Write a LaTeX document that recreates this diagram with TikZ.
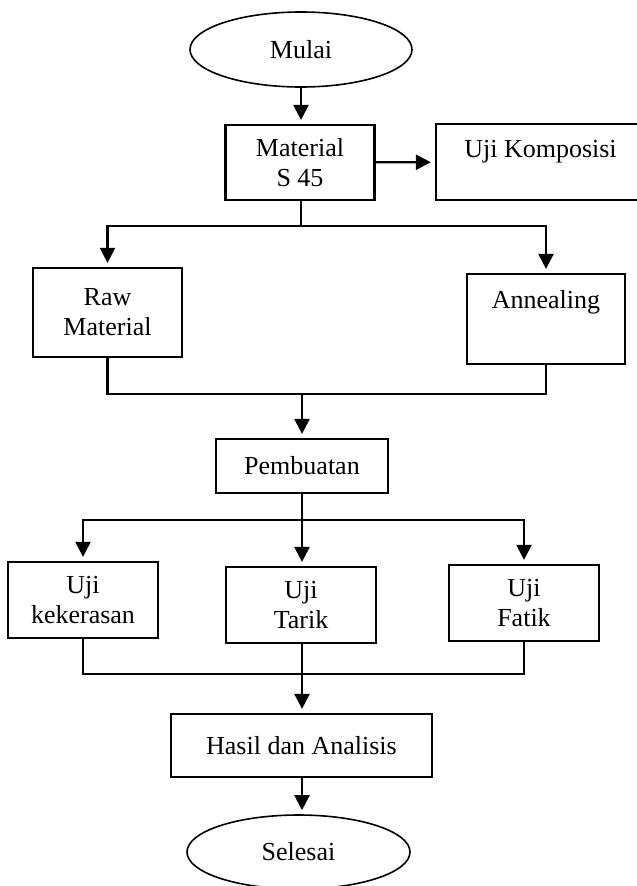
\documentclass[tikz,border=0pt]{standalone}
\usepackage{fontspec}
\setmainfont{Liberation Serif}
\usetikzlibrary{shapes.geometric,arrows.meta}

\begin{document}
\begin{tikzpicture}[x=1pt,y=-1pt,>={Triangle[length=15pt,width=15pt]},line width=2.2pt,font=\fontsize{26}{30}\selectfont]
\tikzstyle{blk}=[rectangle,draw,align=center,inner sep=0pt]
\tikzstyle{term}=[ellipse,draw,line width=1.6pt,inner sep=0pt,minimum width=222pt,minimum height=75pt]
\tikzstyle{flow}=[->,shorten >=4pt]
\useasboundingbox (0,0) rectangle (637,886);
\node[term] (mulai) at (301,49.5) {Mulai};
\node[blk, minimum width=149pt, minimum height=75pt] (material) at (300,162.5) {Material\\S 45};
\node[blk, minimum width=209pt, minimum height=76pt, text depth=26pt] (komposisi) at (540.5,162) {Uji Komposisi};
\node[blk, minimum width=149pt, minimum height=89pt] (raw) at (107.5,312.5) {Raw\\Material};
\node[blk, minimum width=158pt, minimum height=90pt, text depth=40pt] (anneal) at (546,319) {Annealing};
\node[blk, minimum width=172pt, minimum height=54pt] (pembuatan) at (302,466) {Pembuatan};
\node[blk, minimum width=150pt, minimum height=76pt] (keras) at (83,600) {Uji\\kekerasan};
\node[blk, minimum width=150pt, minimum height=76pt] (tarik) at (301,605) {Uji\\Tarik};
\node[blk, minimum width=150pt, minimum height=76pt] (fatik) at (524,603) {Uji\\Fatik};
\node[blk, minimum width=261pt, minimum height=63pt] (hasil) at (301.5,745.5) {Hasil dan Analisis};
\node[term, minimum width=223pt, minimum height=74pt] (selesai) at (298.5,852) {Selesai};
% junctions
\coordinate (split1) at (301,226);
\coordinate (merge1) at (302,394);
\coordinate (split2) at (302,520);
\coordinate (merge2) at (302,674);
\draw[flow] (mulai.south) -- (mulai.south |- material.north);
\draw[flow] (material) -- (komposisi);
\draw (material.south -| split1) -- (split1);
\draw[flow] (split1) -| (raw);
\draw[flow] (split1) -| (anneal);
\draw (raw) |- (merge1) -| (anneal);
\draw[flow] (merge1) -- (merge1 |- pembuatan.north);
\draw (pembuatan.south -| split2) -- (split2);
\draw[flow] (split2) -| (keras);
\draw[flow] (split2) -- (split2 |- tarik.north);
\draw[flow] (split2) -| (fatik);
\draw (keras) |- (merge2) -| (fatik);
\draw[flow] (tarik.south -| merge2) -- (merge2 |- hasil.north);
\draw[flow] (hasil.south -| merge2) -- (merge2 |- selesai.north);
\end{tikzpicture}
\end{document}
